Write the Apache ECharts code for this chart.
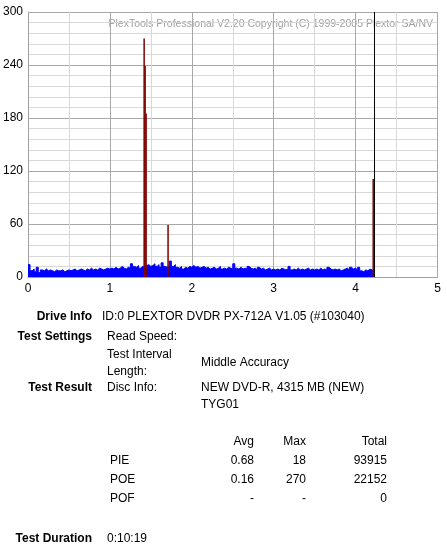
<!DOCTYPE html>
<html>
<head>
<meta charset="utf-8">
<script src="https://cdn.jsdelivr.net/npm/echarts@6/dist/echarts.min.js"></script>
<style>
html,body{margin:0;padding:0;background:#fff;}
#c{width:447px;height:548px;}
</style>
</head>
<body>
<div id="c"></div>
<script>
// Data
var xTicks = [0, 1, 2, 3, 4, 5];
var yTicks = [0, 60, 120, 180, 240, 300];
var pieStep = 0.025;
var pieValues = [
  14, 7, 9, 6, 11, 5, 8, 7, 9, 7, 8, 7, 6, 8, 7, 7, 8, 6, 7, 8,
  7, 8, 9, 7, 8, 9, 8, 7, 9, 8, 10, 8, 9, 8, 10, 9, 8, 9, 10, 9,
  10, 9, 11, 9, 10, 12, 10, 9, 11, 10, 15, 12, 11, 13, 10, 12, 11, 13, 14, 12,
  13, 15, 12, 14, 11, 16, 12, 11, 13, 18, 12, 14, 11, 10, 12, 9, 11, 10, 12, 11,
  13, 11, 12, 10, 11, 12, 10, 11, 9, 10, 11, 9, 10, 12, 9, 10, 9, 11, 10, 9,
  15, 10, 9, 11, 9, 10, 9, 12, 10, 9, 10, 8, 11, 9, 10, 8, 9, 10, 8, 9,
  8, 9, 8, 10, 9, 8, 9, 12, 8, 9, 8, 10, 8, 9, 8, 9, 10, 8, 9, 8,
  9, 8, 10, 8, 9, 8, 11, 9, 8, 9, 8, 9, 7, 8, 9, 10, 8, 11, 9, 10,
  8, 11, 7, 6, 8, 7, 9, 8, 7, 9
];
var pieEnd = 4.23;
var poeX = [1.418, 1.430, 1.442, 1.71, 4.215];
var poeValues = [270, 239, 185, 59, 111];
var endMarkerX = 4.23;

var watermark = 'PlexTools Professional V2.20 Copyright (C) 1999-2005 Plextor SA/NV';
var infoLabels = ['Drive Info', 'Test Settings', 'Test Result', 'Test Duration'];
var driveInfo = 'ID:0 PLEXTOR DVDR PX-712A V1.05 (#103040)';
var statHeaders = ['Avg', 'Max', 'Total'];
var statRows = ['PIE', 'POE', 'POF'];
var statAvg = ['0.68', '0.16', '-'];
var statMax = ['18', '270', '-'];
var statTotal = ['93915', '22152', '0'];
var duration = '0:10:19';

var pieData = pieValues.map(function (v, i) { return [+(i * pieStep).toFixed(3), v]; });
pieData.push([pieEnd, pieValues[pieValues.length - 1]]);
var poeData = poeX.map(function (x, i) { return [x, poeValues[i]]; });

var FONT = 'Liberation Sans, Arial, sans-serif';
var MAJOR = '#a8a8a8', MINOR = '#d8d8d8';
function txt(x, y, s, opt) {
  opt = opt || {};
  return {
    type: 'text', x: x, y: y, silent: true,
    style: {
      text: s, fill: opt.fill || '#000',
      font: (opt.bold ? 'bold ' : '') + (opt.size || 12) + 'px ' + FONT,
      textAlign: opt.align || 'left', textVerticalAlign: 'middle'
    }
  };
}

var graphics = [];
graphics.push(txt(433, 24, watermark, {fill: '#a0a0a0', size: 10.5, align: 'right'}));
graphics.push(txt(92, 317, infoLabels[0], {bold: true, align: 'right'}));
graphics.push(txt(102, 317, driveInfo));
graphics.push(txt(92, 337, infoLabels[1], {bold: true, align: 'right'}));
graphics.push(txt(107, 337, 'Read Speed:'));
graphics.push(txt(107, 355, 'Test Interval'));
graphics.push(txt(107, 372, 'Length:'));
graphics.push(txt(201, 363, 'Middle Accuracy'));
graphics.push(txt(92, 388, infoLabels[2], {bold: true, align: 'right'}));
graphics.push(txt(107, 388, 'Disc Info:'));
graphics.push(txt(201, 388, 'NEW DVD-R, 4315 MB (NEW)'));
graphics.push(txt(201, 405, 'TYG01'));
var colX = [254, 306, 387];
statHeaders.forEach(function (h, i) { graphics.push(txt(colX[i], 442, h, {align: 'right'})); });
var rowY = [461, 480, 499];
statRows.forEach(function (r, i) {
  graphics.push(txt(110, rowY[i], r));
  graphics.push(txt(colX[0], rowY[i], statAvg[i], {align: 'right'}));
  graphics.push(txt(colX[1], rowY[i], statMax[i], {align: 'right'}));
  graphics.push(txt(colX[2], rowY[i], statTotal[i], {align: 'right'}));
});
graphics.push(txt(92, 539, infoLabels[3], {bold: true, align: 'right'}));
graphics.push(txt(107, 539, duration));

var chart = echarts.init(document.getElementById('c'), null, {renderer: 'canvas'});
chart.setOption({
  animation: false,
  backgroundColor: '#fff',
  grid: {left: 26.5, top: 12, width: 411, height: 265, containLabel: false},
  xAxis: {
    type: 'value', min: xTicks[0], max: xTicks[xTicks.length - 1], interval: 0.5,
    axisLine: {show: true, lineStyle: {color: '#a0a0a0', width: 1}},
    axisTick: {show: false},
    axisLabel: {
      color: '#000', fontSize: 12, fontFamily: FONT, margin: 6,
      formatter: function (v) { return xTicks.indexOf(v) >= 0 ? String(v) : ''; }
    },
    splitLine: {show: true, lineStyle: {color: [MAJOR, MINOR], width: 1}}
  },
  yAxis: {
    type: 'value', min: yTicks[0], max: yTicks[yTicks.length - 1], interval: 12,
    axisLine: {show: true, lineStyle: {color: '#a0a0a0', width: 1}},
    axisTick: {show: false},
    axisLabel: {
      color: '#000', fontSize: 12, fontFamily: FONT, margin: 5,
      formatter: function (v) { return yTicks.indexOf(v) >= 0 ? String(v) : ''; }
    },
    splitLine: {show: true, lineStyle: {color: [MAJOR, MINOR, MINOR, MINOR, MINOR], width: 1}}
  },
  graphic: graphics,
  series: [
    {
      type: 'line', data: pieData, step: 'end', symbol: 'none',
      lineStyle: {color: '#0000ff', width: 1},
      areaStyle: {color: '#0000ff', opacity: 1},
      z: 3
    },
    {
      type: 'bar', data: poeData, barWidth: 1.5,
      itemStyle: {color: '#800000'}, z: 4,
      markLine: {
        silent: true, symbol: 'none', label: {show: false},
        lineStyle: {color: '#000', width: 1, type: 'solid'},
        data: [{xAxis: endMarkerX}]
      }
    }
  ]
});
</script>
</body>
</html>
